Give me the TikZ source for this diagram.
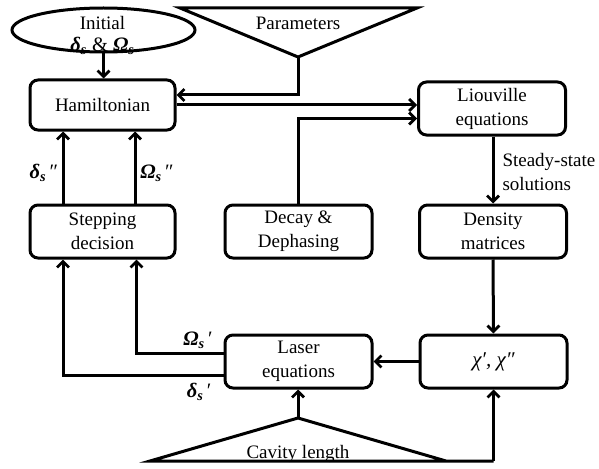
\documentclass[tikz,border=0pt]{standalone}
\usepackage{fontspec}
\setmainfont{Liberation Serif}
\usetikzlibrary{arrows.meta,shapes.geometric,calc}
\newcommand{\bgr}[1]{{\bfseries\itshape #1\textsubscript{s}}}
\begin{document}
\begin{tikzpicture}[x=1pt,y=-1pt,line width=3pt,line join=miter,
  font=\fontsize{19}{24}\selectfont,
  box/.style={draw,rounded corners=8pt,align=center,minimum width=147pt,minimum height=53pt,inner sep=0pt},
  arr/.style={-{Straight Barb[length=6pt,width=12pt,line width=2.8pt]}},
  lbl/.style={inner sep=0pt},
  glbl/.style={inner sep=0pt,font=\fontsize{20.5}{25}\selectfont}]
\useasboundingbox (0,0) rectangle (599,468);
% boxes
\node[box,minimum width=145pt,minimum height=50pt] (ham) at (102.5,105) {Hamiltonian};
\node[box] (liou) at (492,108.5) {Liouville\\equations};
\node[box] (dens) at (493,231.5) {Density\\matrices};
\node[box,minimum width=145pt] (step) at (102.5,231.5) {Stepping\\decision};
\node[box] (decay) at (298.5,231.5) {Decay \&\\Dephasing};
\node[box] (laser) at (298.5,361.5) {Laser\\equations};
\node[box] (chi) at (493.5,361.5) {\fontsize{21}{25}\selectfont\textit{χ′, χ″}};
% ellipse
\node[draw,ellipse,minimum width=183pt,minimum height=44pt,inner sep=0pt] (init) at (103.5,30) {};
\node[lbl] (initt) at (102.5,23) {Initial};
\node[glbl] (initd) at (102.5,46) {\bgr{δ} \textnormal{\&} \bgr{Ω}};
% parameters triangle
\coordinate (ptl) at (180,8);
\coordinate (ptr) at (417,8);
\coordinate (pap) at (298,57);
\draw (ptl) -- (ptr) -- (pap) -- cycle;
\node[lbl] (ptext) at (298,23) {Parameters};
% cavity triangle
\coordinate (cl) at (150,461);
\coordinate (cr) at (446,461);
\coordinate (cap) at (298,418);
\coordinate (cend) at (493.5,461);
\draw (cr) -- (cap) -- (cl) -- (cend);
\node[lbl,anchor=base] (ctext) at (298,458) {Cavity length};
% connectors
\draw[arr] (init.south) -- (init.south |- ham.north);
\draw[arr] (pap) |- ($(ham.east)+(0,-10)$);
\draw[arr] (ham.east) -- (ham.east -| liou.west);
\draw[arr] (decay.north) |- ($(liou.west)+(0,10)$);
\draw[arr] (liou.south -| dens.north) -- (dens.north);
\node[lbl,align=left,anchor=west] (ss) at (501,172) {Steady-state\\solutions};
\draw[arr] (dens.south) -- (chi.north);
\draw[arr] (chi.west) -- (laser.east);
\draw[arr] ($(laser.west)+(0,-8.5)$) -| ($(step.south)+(34,0)$);
\draw[arr] ($(laser.west)+(0,13.5)$) -| ($(step.south)+(-39.5,0)$);
\draw[arr] ($(step.north)+(-39.5,0)$) -- ($(ham.south)+(-39.5,0)$);
\draw[arr] ($(step.north)+(32.5,0)$) -- ($(ham.south)+(32.5,0)$);
\draw[arr] (cap) -- (cap |- laser.south);
\draw[arr] (cend) -- (chi.south);
% labels
\node[glbl] (d2) at (44,173) {\bgr{δ}\,″};
\node[glbl] (o2) at (157,173) {\bgr{Ω}\,″};
\node[glbl] (o1) at (198,340) {\bgr{Ω}\,′};
\node[glbl] (d1) at (199,392) {\bgr{δ}\,′};
\end{tikzpicture}
\end{document}
